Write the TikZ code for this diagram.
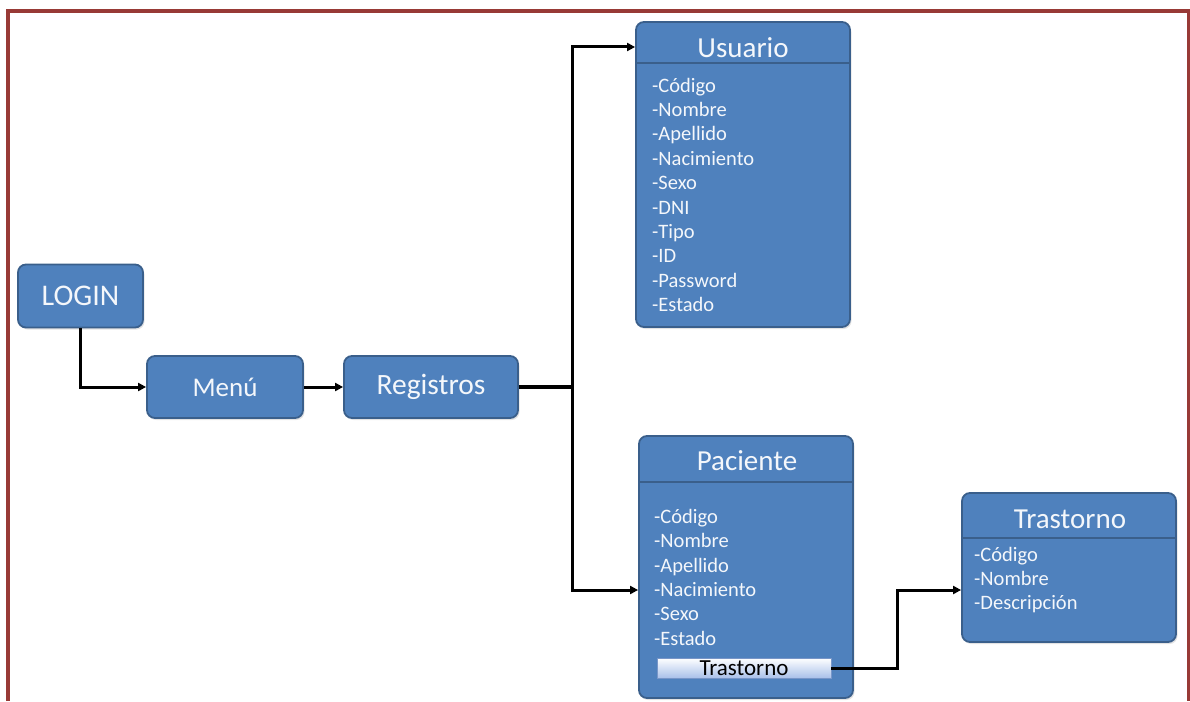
\documentclass[tikz,border=0pt]{standalone}
\usepackage{fontspec}
\setmainfont{Carlito}
\usetikzlibrary{arrows.meta,shadows}

\definecolor{boxfill}{HTML}{4F81BD}
\definecolor{boxedge}{HTML}{3A5F8B}
\definecolor{boxtext}{HTML}{F4F7FB}
\definecolor{frame}{HTML}{983A36}
\definecolor{btnlow}{HTML}{A9C1EA}

\tikzset{
  blockbox/.style={draw=boxedge, line width=1.8pt, fill=boxfill,
    rounded corners=8pt, text=boxtext, inner sep=0pt,
    drop shadow={opacity=0.22, shadow xshift=1.5pt, shadow yshift=-2pt}},
  entitybox/.style={blockbox},
  sepline/.style={draw=boxedge, line width=2pt},
  titletext/.style={text=boxtext, font=\fontsize{29}{34}\selectfont, inner sep=0pt},
  itemtext/.style={text=boxtext, font=\fontsize{20.5}{24}\selectfont, inner sep=0pt, anchor=base west},
  conn/.style={draw=black, line width=3pt, -{Triangle[length=8pt,width=8pt]}},
  trunk/.style={draw=black, line width=4pt},
  btnbox/.style={draw={rgb,255:red,120;green,150;blue,200}, line width=0.8pt,
    top color=white, bottom color=btnlow, text=black, inner sep=0pt,
    font=\fontsize{23}{26}\selectfont}
}

\begin{document}
\begin{tikzpicture}[x=1pt,y=-1pt]
  \useasboundingbox (0,0) rectangle (1190,701);

  % outer frame, open at the bottom
  \draw[frame, line width=4pt] (8,701) -- (8,11) -- (1188.5,11) -- (1188.5,701);

  % flow blocks
  \node[blockbox, minimum width=125pt, minimum height=63pt,
        font=\fontsize{30}{34}\selectfont] (login) at (80.5,296) {LOGIN};
  \node[blockbox, minimum width=156pt, minimum height=62pt,
        font=\fontsize{27}{32}\selectfont] (menu) at (225,387) {Menú};
  \node[blockbox, minimum width=174pt, minimum height=62pt,
        font=\fontsize{29.5}{34}\selectfont] (registros) at (431,387) {Registros};

  % entity: Usuario
  \node[entitybox, minimum width=214pt, minimum height=305pt] (usuario) at (743,174.5) {};
  \draw[sepline] (usuario.west |- 0,63) -- (usuario.east |- 0,63);
  \node[titletext, anchor=base] (usuariot) at (743,58) {Usuario};
  \foreach \t [count=\i from 0] in {-Código,-Nombre,-Apellido,-Nacimiento,-Sexo,-DNI,-Tipo,-ID,-Password,-Estado}
    \node[itemtext] (u\i) at (652,{92+24.4*\i}) {\t};

  % entity: Paciente
  \node[entitybox, minimum width=214pt, minimum height=262pt] (paciente) at (746,567) {};
  \draw[sepline] (paciente.west |- 0,482) -- (paciente.east |- 0,482);
  \node[titletext, anchor=base] (pacientet) at (747,470.5) {Paciente};
  \foreach \t [count=\i from 0] in {-Código,-Nombre,-Apellido,-Nacimiento,-Sexo,-Estado}
    \node[itemtext] (p\i) at (654,{523.5+24.3*\i}) {\t};
  \node[btnbox, minimum width=174pt, minimum height=20pt] (btn) at (744,668) {Trastorno};

  % entity: Trastorno
  \node[entitybox, minimum width=214pt, minimum height=149pt] (trastorno) at (1069,567.5) {};
  \draw[sepline] (trastorno.west |- 0,538) -- (trastorno.east |- 0,538);
  \node[titletext, anchor=base] (trastornot) at (1070,528) {Trastorno};
  \foreach \t [count=\i from 0] in {-Código,-Nombre,-Descripción}
    \node[itemtext] (t\i) at (974,{561+24.2*\i}) {\t};

  % connectors
  \coordinate (hub) at (572,387);
  \draw[conn] (login.south) |- (menu.west);
  \draw[conn] (menu.east) -- (registros.west);
  \draw[trunk] (registros.east) -- (hub);
  \draw[conn] (hub) |- (usuario.west |- 0,47);
  \draw[conn] (hub) |- (paciente.west |- 0,590);
  \draw[conn] (btn.east) -- (btn.east -| 897,0) |- (trastorno.west |- 0,590);
\end{tikzpicture}
\end{document}
